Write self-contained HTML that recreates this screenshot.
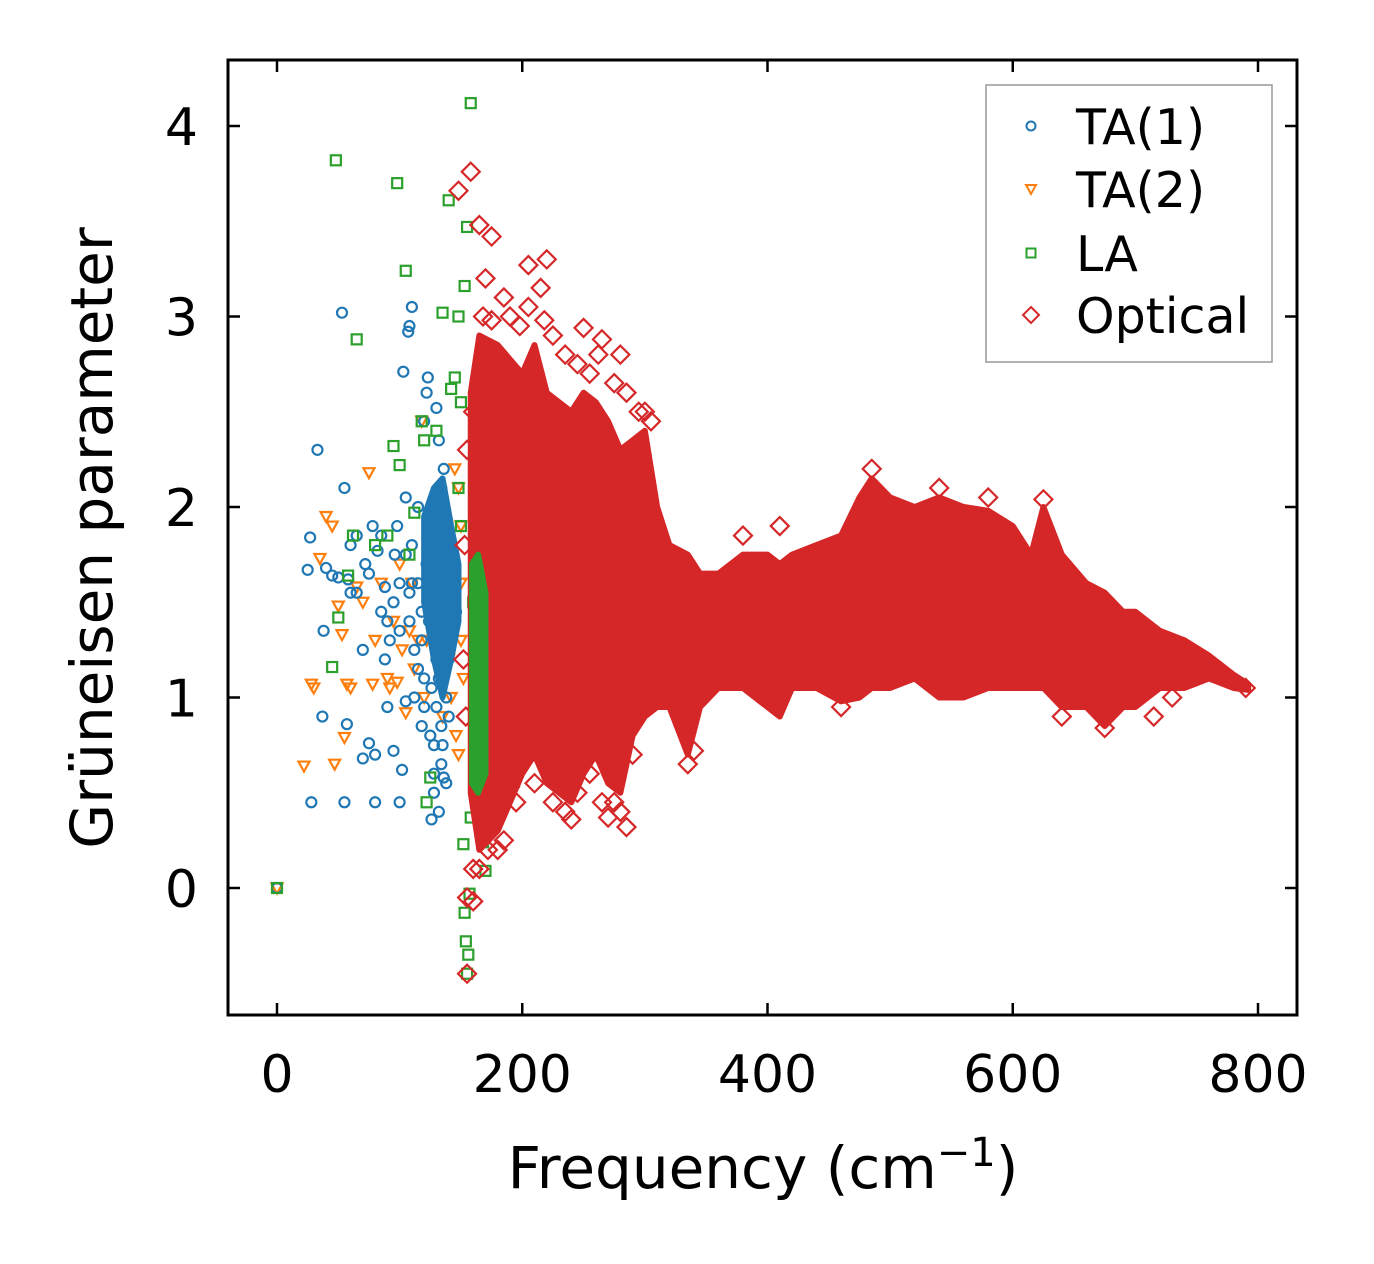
<!DOCTYPE html>
<html><head><meta charset="utf-8"><style>
html,body{margin:0;padding:0;background:#fff;}
svg{display:block;font-family:"DejaVu Sans","Liberation Sans",sans-serif;}
</style></head><body>
<svg id="chart" width="1374" height="1264" viewBox="0 0 1374 1264">
<rect width="1374" height="1264" fill="#fff"/>
<g id="plot"></g>
<g id="axes"></g>
</svg>
<script>
const xTicks=[0,200,400,600,800];
const yTicks=[0,1,2,3,4];
const ta1Points=[[0,0],[25,1.67],[27,1.84],[28,0.45],[33,2.3],[37,0.9],[38,1.35],[40,1.68],[45,1.64],[50,1.63],[53,3.02],[55,2.1],[55,0.45],[57,0.86],[58,1.62],[60,1.8],[65,1.85],[70,0.68],[72,1.7],[75,0.76],[78,1.9],[80,0.45],[80,0.7],[82,1.77],[85,1.45],[88,1.58],[90,0.95],[92,1.3],[95,0.72],[98,1.9],[100,0.45],[102,0.62],[103,2.71],[105,0.98],[107,2.92],[108,2.95],[110,3.05],[110,1.8],[112,1.0],[115,1.6],[118,0.85],[120,2.45],[122,2.6],[123,2.68],[125,1.9],[126,0.36],[128,0.5],[130,2.52],[130,1.2],[132,2.35],[135,0.75],[136,0.58],[138,1.4],[128,2.0],[130,1.85],[132,1.7],[134,2.1],[136,1.95],[130,1.55],[134,1.45],[128,1.3],[136,1.25],[132,1.1],[130,0.95],[134,0.85],[128,0.75],[136,2.2],[132,1.9],[138,1.75],[126,1.6],[140,1.5],[124,1.4],[138,1.0],[126,1.05],[134,0.65],[138,0.55],[95,1.5],[100,1.35],[105,1.75],[108,1.55],[112,1.25],[118,1.45],[120,1.1],[122,1.7],[115,2.0],[105,2.05],[90,1.4],[88,1.2],[70,1.25],[65,1.55],[110,1.6],[115,1.15],[120,0.95],[125,0.8],[128,0.6],[132,0.4],[140,1.2],[142,1.35],[144,1.6],[146,1.45],[140,0.9],[118,1.3],[108,1.4],[100,1.6],[96,1.75],[85,1.85],[75,1.65],[60,1.55]];
const ta1Band=[[120,1.5,1.95],[128,1.2,2.1],[135,1.0,2.15],[142,1.2,1.9],[148,1.4,1.7]];
const ta2Points=[[0,0],[22,0.64],[28,1.07],[30,1.05],[35,1.73],[40,1.95],[45,1.9],[47,0.65],[50,1.48],[53,1.33],[55,0.79],[57,1.07],[60,1.05],[65,1.58],[70,1.5],[75,2.18],[78,1.07],[80,1.3],[85,1.6],[90,1.1],[95,1.4],[100,1.7],[105,0.92],[110,1.6],[115,1.3],[118,2.45],[120,1.0],[125,1.8],[130,1.5],[135,0.9],[140,1.2],[145,2.2],[148,0.7],[150,1.6],[152,1.1],[92,1.05],[98,1.08],[102,1.25],[108,1.35],[112,1.15],[122,1.3],[128,1.4],[132,1.2],[138,1.45],[142,1.0],[146,0.8],[150,1.3],[150,1.9],[148,2.1]];
const laPoints=[[0,0],[48,3.82],[50,1.42],[45,1.16],[58,1.64],[62,1.85],[65,2.88],[80,1.8],[90,1.85],[95,2.32],[98,3.7],[100,2.22],[105,3.24],[108,1.75],[112,1.97],[118,2.45],[120,2.35],[122,0.45],[125,0.58],[130,2.4],[135,3.02],[140,3.61],[142,2.62],[145,2.68],[148,3.0],[150,2.55],[152,0.23],[153,3.16],[153,-0.13],[154,-0.28],[155,-0.45],[155,3.47],[156,-0.35],[157,-0.03],[158,0.37],[158,4.12],[160,1.5],[162,1.2],[164,0.9],[166,0.7],[168,0.24],[170,0.09],[172,1.45],[148,2.1],[150,1.9]];
const laBand=[[159,0.55,1.7],[164,0.5,1.75],[170,0.6,1.55]];
const opticalBand=[[158,0.5,2.6],[165,0.2,2.9],[180,0.3,2.85],[200,0.6,2.7],[210,0.7,2.85],[220,0.55,2.6],[240,0.45,2.5],[250,0.6,2.6],[260,0.7,2.55],[270,0.55,2.45],[280,0.5,2.3],[290,0.8,2.35],[300,0.9,2.4],[310,0.95,2.0],[320,0.95,1.8],[335,0.7,1.75],[345,0.95,1.65],[360,1.05,1.65],[380,1.05,1.75],[400,0.95,1.75],[410,0.9,1.7],[420,1.05,1.75],[440,1.05,1.8],[460,0.98,1.85],[475,1.0,2.05],[485,1.05,2.15],[500,1.05,2.05],[520,1.1,2.0],[540,1.0,2.05],[560,1.0,2.0],[580,1.05,1.98],[600,1.05,1.9],[615,1.05,1.75],[625,1.05,2.0],[640,0.95,1.75],[660,0.95,1.6],[675,0.85,1.55],[690,0.95,1.45],[700,0.95,1.45],[720,1.05,1.35],[740,1.05,1.3],[760,1.1,1.22],[780,1.05,1.12],[792,1.04,1.07]];
const opticalPoints=[[148,3.66],[158,3.76],[165,3.48],[175,3.42],[155,-0.05],[160,-0.07],[160,0.1],[155,-0.45],[170,0.42],[190,0.53],[205,3.27],[220,3.3],[240,0.36],[270,0.37],[285,0.32],[250,2.94],[265,2.88],[335,0.65],[340,0.72],[380,1.85],[410,1.9],[460,0.95],[485,2.2],[540,2.1],[580,2.05],[625,2.04],[640,0.9],[675,0.84],[715,0.9],[730,1.0],[790,1.05],[200,0.8],[230,0.6],[180,0.2],[170,3.2],[185,3.1],[215,3.15],[280,2.8],[300,2.5],[168,3.0],[175,2.98],[190,3.0],[198,2.95],[205,3.05],[218,2.98],[225,2.9],[235,2.8],[245,2.75],[255,2.7],[262,2.8],[275,2.65],[285,2.6],[295,2.5],[305,2.45],[165,0.1],[172,0.2],[185,0.25],[195,0.45],[210,0.55],[225,0.45],[235,0.4],[245,0.5],[255,0.6],[265,0.45],[275,0.45],[280,0.4],[290,0.7],[170,2.7],[160,2.5],[155,2.3],[152,1.2],[154,0.9],[153,1.8]];

const X0=228,X1=1297,Y0=60,Y1=1015;
function sx(v){return 277+v*(1258-277)/800;}
function sy(v){return 888-v*(888-126)/4;}
const NS='http://www.w3.org/2000/svg';
const plot=document.getElementById('plot'),axes=document.getElementById('axes');
function mk(tag,attrs,parent){const e=document.createElementNS(NS,tag);for(const k in attrs)e.setAttribute(k,attrs[k]);parent.appendChild(e);return e;}
const C={ta1:'#1f77b4',ta2:'#ff7f0e',la:'#2ca02c',opt:'#d62728'};
function marker(type,x,y,color,parent){
  let e;
  if(type==='circle')e=mk('circle',{cx:x,cy:y,r:5,fill:'none',stroke:color,'stroke-width':2.2},parent);
  else if(type==='tri')e=mk('path',{d:`M${x-5.5},${y-4.5}L${x+5.5},${y-4.5}L${x},${y+5.5}Z`,fill:'none',stroke:color,'stroke-width':2.2},parent);
  else if(type==='sq')e=mk('rect',{x:x-5,y:y-5,width:10,height:10,fill:'none',stroke:color,'stroke-width':2.2},parent);
  else e=mk('path',{d:`M${x},${y-9}L${x+9},${y}L${x},${y+9}L${x-9},${y}Z`,fill:'none',stroke:color,'stroke-width':2.2},parent);
  return e;
}
function band(arr,color,name){
  const top=arr.map(d=>`${sx(d[0])},${sy(d[2])}`);
  const bot=arr.slice().reverse().map(d=>`${sx(d[0])},${sy(d[1])}`);
  const p=mk('polygon',{points:top.concat(bot).join(' '),fill:color,stroke:color,'stroke-width':6,'stroke-linejoin':'round'},plot);
  
  
}
function series(pts,type,color,name){
  const g=mk('g',{},plot);
  
  
  pts.forEach(d=>{const m=marker(type,sx(d[0]),sy(d[1]),color,g);
    
    });
}
series(ta2Points,'tri',C.ta2,'ta2-series');
series(ta1Points,'circle',C.ta1,'ta1-series');
band(ta1Band,C.ta1,'ta1-dense-band');
series(laPoints,'sq',C.la,'la-series');
band(opticalBand,C.opt,'optical-dense-band');
series(opticalPoints,'diamond',C.opt,'optical-series');
band(laBand,C.la,'la-dense-band');

const fr=mk('rect',{x:X0,y:Y0,width:X1-X0,height:Y1-Y0,fill:'none',stroke:'#000','stroke-width':3},axes);

xTicks.forEach(v=>{const x=sx(v);
  mk('line',{x1:x,y1:Y1,x2:x,y2:Y1-12,stroke:'#000','stroke-width':2.5},axes);
  mk('line',{x1:x,y1:Y0,x2:x,y2:Y0+12,stroke:'#000','stroke-width':2.5},axes);
  const t=mk('text',{x:x,y:1092,'font-size':52,'text-anchor':'middle',fill:'#000'},axes);t.textContent=v;
  });
yTicks.forEach(v=>{const y=sy(v);
  mk('line',{x1:X0,y1:y,x2:X0+12,y2:y,stroke:'#000','stroke-width':2.5},axes);
  mk('line',{x1:X1,y1:y,x2:X1-12,y2:y,stroke:'#000','stroke-width':2.5},axes);
  const t=mk('text',{x:198,y:y+19,'font-size':52,'text-anchor':'end',fill:'#000'},axes);t.textContent=v;
  });
</script>
<svg style="position:absolute;left:0;top:0" width="1374" height="1264">
<text x="763" y="1188" font-size="58" text-anchor="middle" font-family="DejaVu Sans, Liberation Sans, sans-serif">Frequency (cm<tspan dy="-22" font-size="40">−1</tspan><tspan dy="22">)</tspan></text>
<text transform="translate(112,538) rotate(-90)" font-size="58" text-anchor="middle" font-family="DejaVu Sans, Liberation Sans, sans-serif">Grüneisen parameter</text>
<g font-family="DejaVu Sans, Liberation Sans, sans-serif" font-size="49">
<rect x="986" y="85" width="286" height="277" fill="#fff" fill-opacity="0.8" stroke="#999" stroke-width="1.5"/>
<circle cx="1031" cy="126" r="4.5" fill="none" stroke="#1f77b4" stroke-width="2"/>
<text x="1076" y="144">TA(1)</text>
<path d="M1026,185L1036,185L1031,194Z" fill="none" stroke="#ff7f0e" stroke-width="2"/>
<text x="1076" y="207">TA(2)</text>
<rect x="1026.5" y="248.5" width="9" height="9" fill="none" stroke="#2ca02c" stroke-width="2"/>
<text x="1076" y="271">LA</text>
<path d="M1031,307L1039,315L1031,323L1023,315Z" fill="none" stroke="#d62728" stroke-width="2"/>
<text x="1076" y="333">Optical</text>
</g>
</svg>
</body></html>
